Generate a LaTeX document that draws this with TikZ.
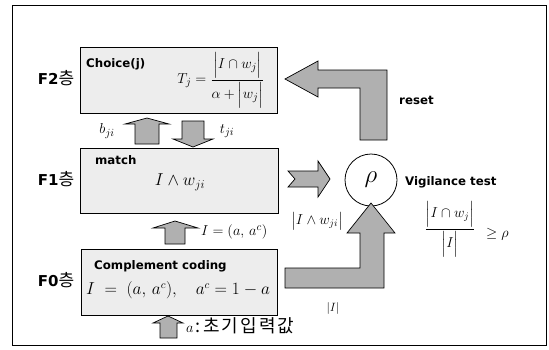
\documentclass[tikz,border=0pt]{standalone}
\usepackage{amsmath}
\usepackage{fontspec}
\setsansfont{DejaVu Sans}
\newfontfamily\kr{Noto Sans CJK KR}
\newfontfamily\krwide[LetterSpace=12]{Noto Sans CJK KR}
\begin{document}
\begin{tikzpicture}[x=1pt,y=-1pt,
  layerbox/.style={draw=black, line width=0.8pt, fill=gray!14, inner sep=0pt, anchor=north west},
  blockarrow/.style={draw=black, line width=0.7pt, fill=gray!62, line join=miter},
  lbl/.style={font=\sffamily\bfseries\fontsize{11.8}{13}\selectfont, inner sep=0pt},
  layername/.style={font=\sffamily\bfseries\fontsize{15}{17}\selectfont, inner sep=0pt},
  mathlbl/.style={inner sep=0pt, font=\fontsize{14}{16}\selectfont}]
\useasboundingbox (0,0) rectangle (549,349);
\node[draw=black, line width=1.2pt, minimum width=534pt, minimum height=340pt, inner sep=0pt, anchor=north west] (frame) at (12,5) {};
% layer boxes
\node[layerbox, minimum width=197pt, minimum height=66pt] (F2) at (80,47) {};
\node[layerbox, minimum width=198pt, minimum height=65pt] (F1) at (80,148) {};
\node[layerbox, minimum width=196pt, minimum height=66pt] (F0) at (81,249) {};
% layer names
\node[layername] (L2) at (56,78) {F2{\kr\mdseries\fontsize{17}{17}\selectfont 층}};
\node[layername] (L1) at (56,179) {F1{\kr\mdseries\fontsize{17}{17}\selectfont 층}};
\node[layername] (L0) at (56,280) {F0{\kr\mdseries\fontsize{17}{17}\selectfont 층}};
% box contents
\node[lbl, anchor=west] (choice) at (86,64) {Choice(j)};
\node[mathlbl, font=\fontsize{15.5}{17}\selectfont] (Tj) at (221,80) {$T_j=\dfrac{\Bigl|I\cap w_j\Bigr|}{\alpha+\Bigl|w_j\Bigr|}$};
\node[lbl, anchor=west] (match) at (95,160) {match};
\node[mathlbl, font=\fontsize{18}{20}\selectfont] (Iw) at (180,182) {$I\wedge w_{ji}$};
\node[lbl, anchor=west] (cc) at (94,266) {Complement coding};
\node[mathlbl, font=\fontsize{16}{18}\selectfont] (Ieq) at (178,290) {$I\;=\;(a,\,a^c),\quad a^c=1-a$};
% small arrows between layers
\draw[blockarrow] (135,144) -- (135,124) -- (125,124) -- (147,118) -- (169,124) -- (159,124) -- (159,144) -- cycle;
\draw[blockarrow] (182,121) -- (204,121) -- (204,139) -- (213,139) -- (193,147) -- (173,139) -- (182,139) -- cycle;
\node[mathlbl, font=\fontsize{15}{17}\selectfont] (bji) at (107,131) {$b_{ji}$};
\node[mathlbl, font=\fontsize{15}{17}\selectfont] (tji) at (227,131) {$t_{ji}$};
\draw[blockarrow] (165,244) -- (165,228) -- (153,228) -- (175,221) -- (198,228) -- (185,228) -- (185,244) -- cycle;
\node[mathlbl, font=\fontsize{15}{17}\selectfont, anchor=west] (Ia) at (201,232) {$I=(a,\,a^c)$};
\draw[blockarrow] (160,338) -- (160,323) -- (153,323) -- (168,316) -- (183,323) -- (177,323) -- (177,338) -- cycle;
\node[inner sep=0pt, anchor=west] (init) at (186,326) {\fontsize{14}{15}\selectfont$a$\,{\krwide\fontsize{18}{18}\selectfont :초기입력값}};
% vigilance
\node[draw=black, circle, line width=0.8pt, fill=white, minimum size=52pt, inner sep=0pt] (rho) at (371,180) {\fontsize{24}{24}\selectfont$\rho$};
\draw[blockarrow] (288,171) -- (318,171) -- (318,161) -- (330,179) -- (318,197) -- (318,187) -- (288,187) -- (295,179) -- cycle;
\draw[blockarrow] (285,268) -- (360,268) -- (360,233) -- (347,233) -- (371,203) -- (395,233) -- (384,233) -- (384,288) -- (285,288) -- cycle;
\draw[blockarrow] (387,140) -- (387,70) -- (318,70) -- (318,61) -- (285,79) -- (318,97) -- (318,88) -- (360,88) -- (360,140) -- cycle;
\node[lbl, anchor=west] (reset) at (399,100) {reset};
\node[lbl, anchor=west] (vt) at (405,182) {Vigilance test};
\node[mathlbl] (Iwji) at (317,221) {$\bigl|I\wedge w_{ji}\bigr|$};
\node[mathlbl, font=\fontsize{13}{15}\selectfont] (absI) at (333,308) {$|I|$};
\node[mathlbl] (vfrac) at (450,229) {$\dfrac{\Bigl|I\cap w_j\Bigr|}{\Bigl|I\Bigr|}$};
\node[mathlbl, anchor=west] (geq) at (486,234) {$\geq\rho$};
\end{tikzpicture}
\end{document}
